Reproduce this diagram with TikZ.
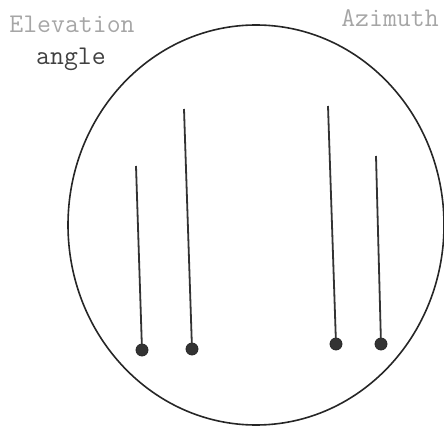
\documentclass[tikz,border=0pt]{standalone}
\begin{document}
\begin{tikzpicture}[x=1pt,y=1pt,
  ball/.style={circle,fill=black!80,draw=black!85,line width=0.8pt,inner sep=0pt,minimum size=12pt},
  needle/.style={line width=1.8pt,black!80},
  lbl/.style={font=\ttfamily\fontsize{27}{30}\selectfont,anchor=base,inner sep=0pt}]
\useasboundingbox (0,0) rectangle (444,426);
\draw[line width=1.6pt,black!85] (256,201) ellipse [x radius=188, y radius=200];
\node[lbl,text=black!35] (elev) at (72,393) {Elevation};
\node[lbl,text=black!75] (ang) at (71,361) {angle};
\node[lbl,text=black!35] (azi) at (390,399) {Azimuth};
\coordinate (t1) at (136,260);
\coordinate (t2) at (184,317);
\coordinate (t3) at (328,320);
\coordinate (t4) at (376,270);
\node[ball] (b1) at (142,76) {};
\node[ball] (b2) at (192,77) {};
\node[ball] (b3) at (336,82) {};
\node[ball] (b4) at (381,82) {};
\draw[needle] (t1) -- (b1.center);
\draw[needle] (t2) -- (b2.center);
\draw[needle] (t3) -- (b3.center);
\draw[needle] (t4) -- (b4.center);
\end{tikzpicture}
\end{document}
